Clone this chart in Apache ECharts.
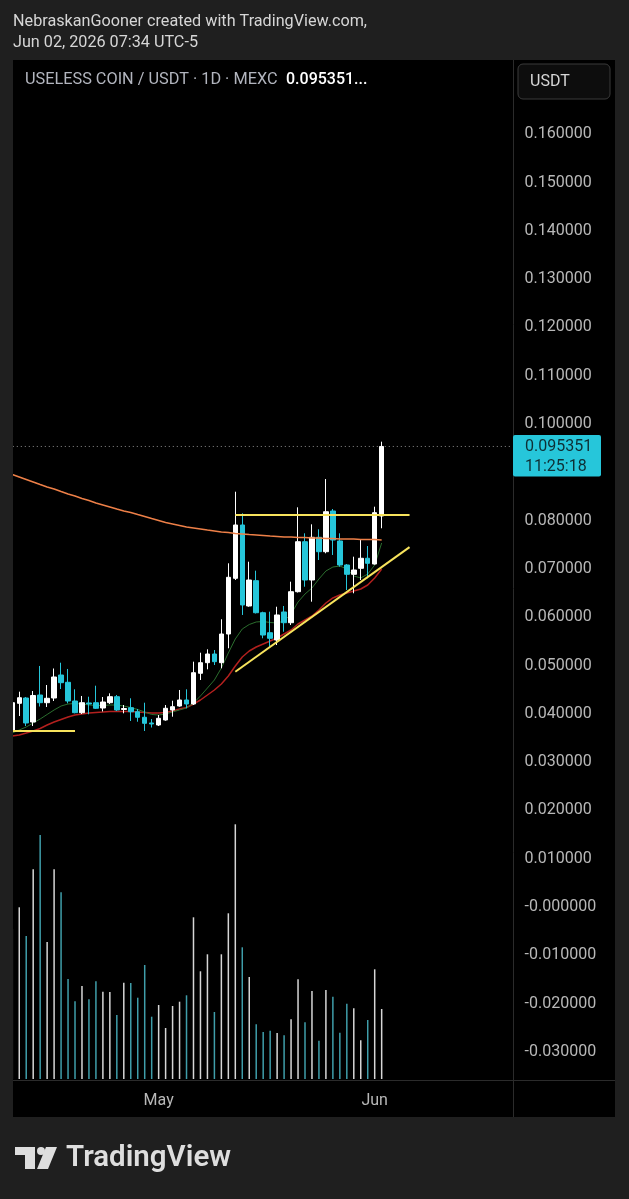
<!DOCTYPE html>
<html><head><meta charset="utf-8">
<script src="https://cdn.jsdelivr.net/npm/echarts@6/dist/echarts.min.js"></script>
<style>html,body{margin:0;padding:0;background:#1f1f1f;overflow:hidden}#c{width:629px;height:1199px}</style>
</head><body><div id="c"></div>
<script>
// ---------- data ----------
const startDate = '2026-04-10';   // first (partly hidden) daily bar
const slotCount = 72;              // visible daily slots incl. right margin
const monthTicks = {'2026-05-01': 'May', '2026-06-01': 'Jun'};

const open  = [0.0366,0.04217,0.04327,0.0383,0.04389,0.0423,0.04327,0.04803,0.04652,0.04265,0.04023,0.04224,0.0423,0.0412,0.0423,0.04354,0.04089,0.04126,0.04043,0.03928,0.0381,0.03768,0.03872,0.04079,0.04161,0.04286,0.04203,0.04839,0.05058,0.05238,0.05058,0.05652,0.06805,0.07909,0.06232,0.06756,0.06093,0.05679,0.05528,0.06108,0.05886,0.06528,0.07563,0.0677,0.07654,0.07356,0.08199,0.07578,0.07081,0.06888,0.07012,0.0722,0.07101,0.08095];
const close = [0.0423,0.04333,0.0381,0.04379,0.0423,0.04321,0.04762,0.04644,0.04265,0.04023,0.0423,0.04203,0.04114,0.04244,0.04354,0.04079,0.0411,0.04043,0.03928,0.03803,0.03789,0.03907,0.04114,0.04147,0.04286,0.04203,0.04851,0.05058,0.05238,0.05079,0.05652,0.06826,0.07909,0.06253,0.0677,0.06093,0.05631,0.05563,0.06046,0.05886,0.06528,0.07563,0.0677,0.07654,0.07356,0.08184,0.07598,0.07081,0.06888,0.06977,0.0722,0.07116,0.08164,0.095351];
const low   = [0.0336,0.03954,0.03747,0.03747,0.04151,0.04141,0.04265,0.04513,0.04217,0.0401,0.03996,0.0399,0.041,0.04048,0.04203,0.04058,0.0401,0.03851,0.03836,0.03644,0.03716,0.03747,0.03857,0.0394,0.04147,0.04114,0.04182,0.047,0.04921,0.0501,0.04942,0.05356,0.0677,0.06046,0.06217,0.06077,0.05563,0.05389,0.05424,0.057,0.05839,0.06511,0.06631,0.06321,0.07184,0.07323,0.07288,0.07046,0.06563,0.06495,0.0677,0.06805,0.0709,0.07841];
const high  = [0.0425,0.04458,0.04348,0.04472,0.0499,0.04596,0.04938,0.05058,0.04928,0.04507,0.04369,0.04354,0.04582,0.04348,0.04424,0.04389,0.04182,0.04321,0.041,0.0423,0.03892,0.03975,0.04182,0.04271,0.04493,0.04507,0.05079,0.05265,0.05335,0.05321,0.05957,0.07116,0.08598,0.08151,0.07149,0.06963,0.06114,0.06114,0.06217,0.06232,0.06735,0.08275,0.07737,0.07923,0.0782,0.08861,0.0824,0.07737,0.07101,0.07253,0.07598,0.07474,0.08288,0.09634];
const volume = [150,171.7,143,209.7,244,137,209.7,186.7,100,77.7,93,79.7,97.7,87.3,87,64,96.3,96,81.3,114,62.3,74,51,73,77.3,83.7,161.7,107.7,124.7,67,124.7,165.7,254.7,131.7,102,54.7,47,48.3,46,43.7,59.7,99.7,56.7,88,38.3,89,82.3,46.3,75.3,70.7,38.7,59,109.7,70];

const maLong = [0.08954,0.08903,0.08851,0.08799,0.08747,0.08696,0.08654,0.08602,0.08551,0.08509,0.08458,0.08416,0.08364,0.08323,0.08282,0.0824,0.08199,0.08168,0.08126,0.08085,0.08043,0.08002,0.07961,0.0793,0.07899,0.07867,0.07847,0.07826,0.07805,0.07785,0.07764,0.07754,0.07733,0.07723,0.07712,0.07702,0.07692,0.07681,0.07671,0.0766,0.0766,0.0765,0.0765,0.0764,0.0764,0.07629,0.07629,0.07619,0.07619,0.07619,0.07609,0.07609,0.07609,0.07598];
const maFast = [0.03602,0.03665,0.03727,0.0381,0.03892,0.03986,0.04079,0.04161,0.04203,0.04213,0.04203,0.04182,0.04172,0.04172,0.04182,0.04182,0.04161,0.0413,0.04089,0.04037,0.03986,0.03975,0.03996,0.04037,0.04079,0.0412,0.04224,0.04369,0.04534,0.047,0.04948,0.05259,0.05549,0.05756,0.05849,0.05901,0.05911,0.0589,0.0588,0.05921,0.06066,0.06315,0.0648,0.06605,0.06791,0.06957,0.07039,0.0706,0.06998,0.06853,0.06812,0.06894,0.07081,0.07536];
const maSlow = [0.0354,0.03561,0.03602,0.03644,0.03696,0.03768,0.0383,0.03882,0.03934,0.03975,0.03996,0.04017,0.04027,0.04037,0.04048,0.04048,0.04048,0.04048,0.04037,0.04027,0.04017,0.04017,0.04027,0.04058,0.041,0.0413,0.04203,0.04286,0.04389,0.04493,0.04617,0.04783,0.0499,0.05176,0.053,0.05383,0.05445,0.05507,0.05569,0.05652,0.05735,0.05859,0.05942,0.06025,0.06149,0.06294,0.06398,0.0646,0.06501,0.06542,0.06584,0.06667,0.06812,0.06998];

// drawings: [barIndex, price]
const supportLine    = [[0, 0.03644], [9, 0.03644]];
const resistanceLine = [[32, 0.08116], [57, 0.08116]];
const trendLine      = [[32, 0.0487], [57, 0.0745]];

const lastPrice = 0.095351;
const countdown = '11:25:18';

// ---------- build ----------
const categories = [];
{
  const d0 = new Date(startDate + 'T00:00:00Z');
  for (let i = 0; i < slotCount; i++) {
    const d = new Date(d0.getTime() + i * 86400000);
    categories.push(d.toISOString().slice(0, 10));
  }
}
const UP = '#ffffff', DOWN = '#26c6da';
const candleData = open.map((o, i) => [o, close[i], low[i], high[i]]);
const volData = volume.map((v, i) => ({
  value: v,
  itemStyle: {color: close[i] >= open[i] ? '#d6d6d6' : '#3f9eaa'}
}));
const priceLine = [[-0.5, lastPrice], [slotCount - 0.5, lastPrice]];

const FONT = 'Roboto, "Noto Sans", sans-serif';
const BG = '#1f1f1f';
const gridLeft = 8.8, gridWidth = 501.8;

const chart = echarts.init(document.getElementById('c'), null, {renderer: 'canvas'});
const option = {
  backgroundColor: BG,
  animation: false,
  textStyle: {fontFamily: FONT},
  grid: [
    {left: gridLeft, width: gridWidth, top: 134.2, height: 917.7},
    {left: gridLeft, width: gridWidth, top: 824.3, height: 254.7}
  ],
  xAxis: [
    {type: 'category', gridIndex: 0, data: categories, show: false},
    {type: 'category', gridIndex: 1, data: categories,
     axisLine: {show: false}, axisTick: {show: false}, splitLine: {show: false},
     axisLabel: {
       interval: (idx, val) => val in monthTicks,
       formatter: val => monthTicks[val] || '',
       color: '#b8b8b8', fontSize: 16, margin: 14, fontFamily: FONT
     }},
    {type: 'value', gridIndex: 0, min: -0.5, max: slotCount - 0.5, show: false}
  ],
  yAxis: [
    {type: 'value', gridIndex: 0, position: 'right', min: -0.03, max: 0.16, interval: 0.01,
     axisLine: {show: false}, axisTick: {show: false}, splitLine: {show: false},
     axisLabel: {
       color: '#b8b8b8', fontSize: 16, margin: 14, fontFamily: FONT, padding: [5, 0, 0, 0],
       formatter: v => (v <= 1e-9 ? '-' : '') + Math.abs(v).toFixed(6)
     }},
    {type: 'value', gridIndex: 1, min: 0, max: 'dataMax', show: false}
  ],
  series: [
    {type: 'bar', xAxisIndex: 1, yAxisIndex: 1, data: volData, barWidth: 1.5, z: 1},
    {type: 'line', xAxisIndex: 2, yAxisIndex: 0, data: priceLine, showSymbol: false, z: 1,
     lineStyle: {type: [1, 3], color: '#8c8c8c', width: 1}},
    {type: 'line', xAxisIndex: 0, yAxisIndex: 0, data: maSlow, showSymbol: false, z: 2,
     lineStyle: {color: '#b3201e', width: 1.5}},
    {type: 'line', xAxisIndex: 0, yAxisIndex: 0, data: maFast, showSymbol: false, z: 2,
     lineStyle: {color: '#2b6e2e', width: 1}},
    {type: 'candlestick', xAxisIndex: 0, yAxisIndex: 0, data: candleData, barWidth: 5, z: 3,
     itemStyle: {color: UP, color0: DOWN, borderColor: UP, borderColor0: DOWN, borderWidth: 1}},
    {type: 'line', xAxisIndex: 0, yAxisIndex: 0, data: maLong, showSymbol: false, z: 4,
     lineStyle: {color: '#ee8048', width: 1.5}},
    {type: 'line', xAxisIndex: 2, yAxisIndex: 0, data: supportLine, showSymbol: false, z: 5,
     lineStyle: {color: '#f7e35c', width: 2}},
    {type: 'line', xAxisIndex: 2, yAxisIndex: 0, data: resistanceLine, showSymbol: false, z: 5,
     lineStyle: {color: '#f7e35c', width: 2}},
    {type: 'line', xAxisIndex: 2, yAxisIndex: 0, data: trendLine, showSymbol: false, z: 5,
     lineStyle: {color: '#f7e35c', width: 2}}
  ]
};
chart.setOption(option);

const py = chart.convertToPixel({yAxisIndex: 0}, lastPrice);
chart.setOption({
  graphic: [
    // panel
    {type: 'rect', z: -10, silent: true, shape: {x: 13, y: 60, width: 602, height: 1057}, style: {fill: '#000000'}},
    // left cover (chart clipped at panel edge)
    {type: 'rect', z: 50, silent: true, shape: {x: 0, y: 60, width: 13, height: 1057}, style: {fill: BG}},
    // separators
    {type: 'line', z: 40, silent: true, shape: {x1: 513.5, y1: 60, x2: 513.5, y2: 1117}, style: {stroke: '#2b2b2b', lineWidth: 1}},
    {type: 'line', z: 40, silent: true, shape: {x1: 13, y1: 1080.5, x2: 615, y2: 1080.5}, style: {stroke: '#2b2b2b', lineWidth: 1}},
    // header
    {type: 'text', z: 60, style: {text: 'NebraskanGooner created with TradingView.com,', x: 13, y: 22, fill: '#d6d6d6', font: '16.2px ' + FONT, verticalAlign: 'middle'}},
    {type: 'text', z: 60, style: {text: 'Jun 02, 2026 07:34 UTC-5', x: 13, y: 43, fill: '#d6d6d6', font: '16.2px ' + FONT, verticalAlign: 'middle'}},
    // legend line
    {type: 'text', z: 60, style: {text: 'USELESS COIN / USDT · 1D · MEXC', x: 25, y: 80, fill: '#b2b5be', font: '16.3px ' + FONT, verticalAlign: 'middle'}},
    {type: 'text', z: 60, style: {text: '0.095351...', x: 286, y: 80, fill: '#ffffff', font: '500 16px ' + FONT, verticalAlign: 'middle'}},
    // currency button
    {type: 'rect', z: 60, shape: {x: 518, y: 64, width: 92, height: 35, r: 5}, style: {fill: '#0d0d0d', stroke: '#3a3a3a', lineWidth: 1}},
    {type: 'text', z: 61, style: {text: 'USDT', x: 530, y: 82, fill: '#d6d6d6', font: '16px ' + FONT, verticalAlign: 'middle'}},
    // last price tag
    {type: 'rect', z: 60, shape: {x: 513, y: py - 11.5, width: 88, height: 41.5, r: 2}, style: {fill: '#26c6da'}},
    {type: 'text', z: 61, style: {text: lastPrice.toFixed(6), x: 525, y: py + 1, fill: '#0e2f35', font: '16px ' + FONT, verticalAlign: 'middle'}},
    {type: 'text', z: 61, style: {text: countdown, x: 525, y: py + 21, fill: '#0e2f35', font: '16px ' + FONT, verticalAlign: 'middle'}},
    // TradingView logo
    {type: 'rect', z: 60, shape: {x: 15, y: 1147, width: 20, height: 8}, style: {fill: '#dedede'}},
    {type: 'rect', z: 60, shape: {x: 25, y: 1147, width: 10, height: 22}, style: {fill: '#dedede'}},
    {type: 'circle', z: 60, shape: {cx: 41, cy: 1151, r: 4}, style: {fill: '#dedede'}},
    {type: 'polygon', z: 60, shape: {points: [[46, 1147], [57, 1147], [48, 1169], [37, 1169]]}, style: {fill: '#dedede'}},
    {type: 'text', z: 60, style: {text: 'TradingView', x: 66, y: 1159, fill: '#dedede', font: '600 29.5px ' + FONT, verticalAlign: 'middle'}}
  ]
});
</script>
</body></html>
